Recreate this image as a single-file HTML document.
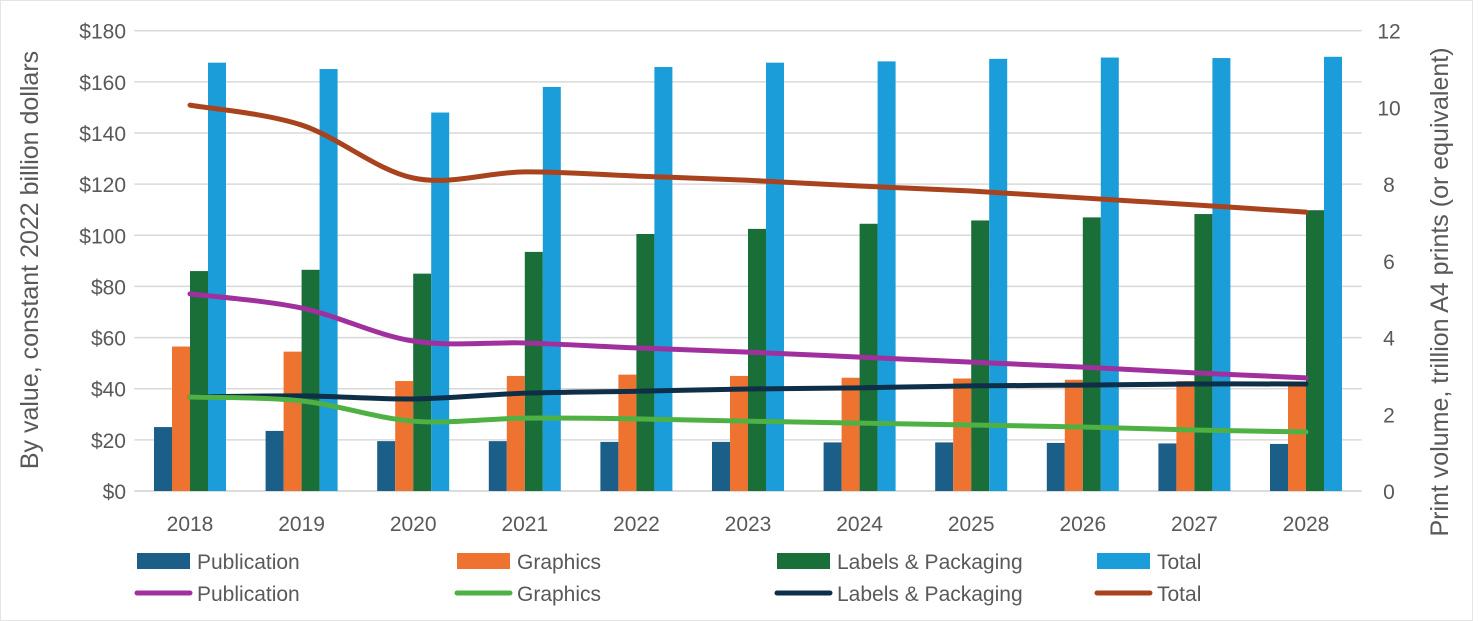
<!DOCTYPE html>
<html><head><meta charset="utf-8"><style>
body{margin:0;background:#fff;}
svg{display:block;font-family:"Liberation Sans",Arial,sans-serif;}
</style></head><body>
<svg id="chart" width="1478" height="621" viewBox="0 0 1478 621">
<rect x="0.5" y="0.5" width="1472" height="620" fill="#fff" stroke="#e4e4e4"/>
<g id="grid"></g><g id="bars"></g><g id="lines"></g><g id="axes"></g><g id="legend"></g>
</svg>
<script>
const years=["2018","2019","2020","2021","2022","2023","2024","2025","2026","2027","2028"];
const pubValue=[25,23.5,19.5,19.5,19.2,19.2,19,19,18.8,18.6,18.4];
const graValue=[56.5,54.5,43,45,45.5,45,44.3,44,43.5,43,42.7];
const labValue=[86,86.5,85,93.5,100.5,102.5,104.5,105.8,107,108.3,109.8];
const totValue=[167.5,165,148,158,165.8,167.5,168,169,169.5,169.3,169.8];
const pubVolume=[5.14,4.77,3.91,3.86,3.73,3.62,3.49,3.36,3.23,3.08,2.95];
const graVolume=[2.45,2.35,1.82,1.9,1.88,1.82,1.77,1.72,1.67,1.59,1.54];
const labVolume=[2.45,2.48,2.4,2.55,2.6,2.66,2.69,2.74,2.76,2.79,2.79];
const totVolume=[10.06,9.54,8.16,8.32,8.21,8.1,7.95,7.82,7.64,7.46,7.27];
const leftTicks=["$0","$20","$40","$60","$80","$100","$120","$140","$160","$180"];
const rightTicks=["0","2","4","6","8","10","12"];

const NS="http://www.w3.org/2000/svg";
const X0=134.2,CW=111.6,Y0=491,Y1=30.7;
const yL=v=>Y0-(v/180)*(Y0-Y1);
const yR=v=>Y0-(v/12)*(Y0-Y1);
const xC=i=>X0+CW*(i+0.5);
function mk(tag,attrs,parent){const e=document.createElementNS(NS,tag);for(const k in attrs)e.setAttribute(k,attrs[k]);parent.appendChild(e);return e;}
const grid=document.getElementById('grid'),bars=document.getElementById('bars'),lines=document.getElementById('lines'),axes=document.getElementById('axes'),legend=document.getElementById('legend');

leftTicks.forEach((t,i)=>{
  const y=yL(i*20);
  const g=mk('line',{x1:X0,x2:X0+CW*11,y1:y,y2:y,stroke:i==0?'#d0d0d0':'#d9d9d9','stroke-width':1.5},grid);
  
  
  const tx=mk('text',{x:126,y:y+8,'text-anchor':'end','font-size':21,fill:'#595959'},axes);
  tx.textContent=t;
  
  
});
rightTicks.forEach((t,i)=>{
  const tx=mk('text',{x:1389,y:yR(+t)+8,'text-anchor':'middle','font-size':21,fill:'#595959'},axes);
  tx.textContent=t;
  
  
});
years.forEach((yr,i)=>{
  const tx=mk('text',{x:xC(i),y:531,'text-anchor':'middle','font-size':21,fill:'#595959'},axes);
  tx.textContent=yr;
  
  
});
let t1=mk('text',{transform:'translate(38,260) rotate(-90)','text-anchor':'middle','font-size':25,fill:'#595959'},axes);
t1.textContent='By value, constant 2022 billion dollars';


let t2=mk('text',{transform:'translate(1448,292) rotate(-90)','text-anchor':'middle','font-size':25,fill:'#595959'},axes);
t2.textContent='Print volume, trillion A4 prints (or equivalent)';



const barSeries=[[pubValue,'#1b5e88','bar-publication'],[graValue,'#ef7330','bar-graphics'],[labValue,'#1a6e37','bar-labels-packaging'],[totValue,'#1a9dd9','bar-total']];
const BW=18;
barSeries.forEach((s,k)=>{
  s[0].forEach((v,i)=>{
    const x=xC(i)-36+k*BW;
    const r=mk('rect',{x:x,y:yL(v),width:BW,height:Y0-yL(v),fill:s[1]},bars);
    
    
  });
});

function smooth(vals){
  const p=vals.map((v,i)=>[xC(i),yR(v)]);
  let d='M'+p[0][0]+','+p[0][1];
  for(let i=0;i<p.length-1;i++){
    const p0=p[Math.max(0,i-1)],p1=p[i],p2=p[i+1],p3=p[Math.min(p.length-1,i+2)];
    const c1=[p1[0]+(p2[0]-p0[0])/6,p1[1]+(p2[1]-p0[1])/6];
    const c2=[p2[0]-(p3[0]-p1[0])/6,p2[1]-(p3[1]-p1[1])/6];
    d+=' C'+c1+' '+c2+' '+p2;
  }
  return d;
}
const lineSeries=[[labVolume,'#0e2f47','line-labels-packaging'],[graVolume,'#4fb143','line-graphics'],[pubVolume,'#a0309d','line-publication'],[totVolume,'#a8431e','line-total']];
lineSeries.forEach(s=>{
  const p=mk('path',{d:smooth(s[0]),fill:'none',stroke:s[1],'stroke-width':5,'stroke-linecap':'round'},lines);
  
  
});

const legItems=[['Publication','#1b5e88',0,0],['Graphics','#ef7330',1,0],['Labels & Packaging','#1a6e37',2,0],['Total','#1a9dd9',3,0],
['Publication','#a0309d',0,1],['Graphics','#4fb143',1,1],['Labels & Packaging','#0e2f47',2,1],['Total','#a8431e',3,1]];
legItems.forEach(it=>{
  const x=135+it[2]*320,y=it[3]?593:561;
  const g=mk('g',{},legend);
  
  
  if(it[3]) mk('line',{x1:x+2,x2:x+55,y1:y,y2:y,stroke:it[1],'stroke-width':5,'stroke-linecap':'round'},g);
  else mk('rect',{x:x+2,y:y-8,width:53,height:16,fill:it[1]},g);
  const tx=mk('text',{x:x+62,y:y+8,'font-size':21,fill:'#595959'},g);
  tx.textContent=it[0];
});
</script>
</body></html>
